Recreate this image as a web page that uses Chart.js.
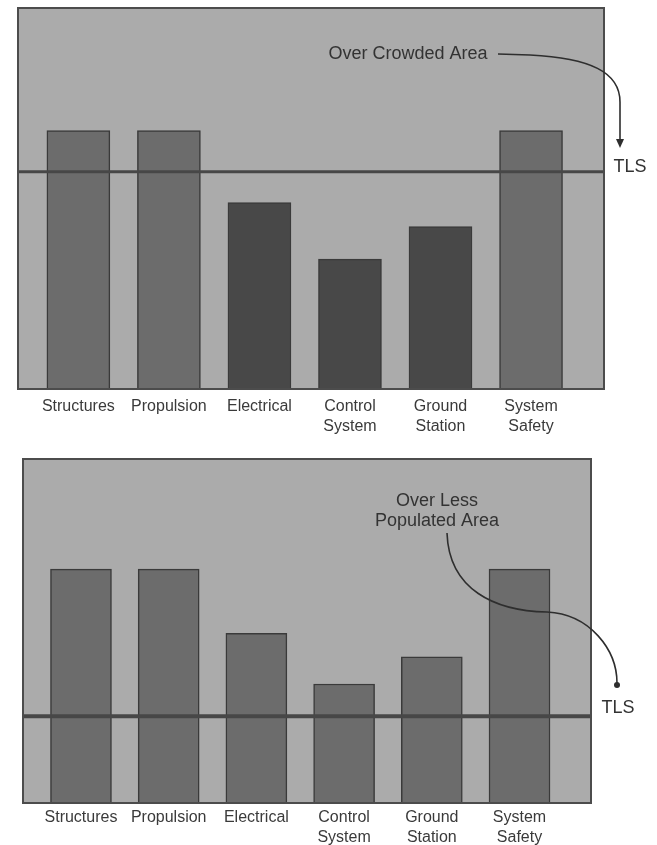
<!DOCTYPE html>
<html>
<head>
<meta charset="utf-8">
<script src="https://cdn.jsdelivr.net/npm/chart.js@4/dist/chart.umd.min.js"></script>
<style>
  body { margin: 0; background: #fff; }
  #wrap { position: relative; width: 657px; height: 845px; }
  canvas { position: absolute; left: 0; }
</style>
</head>
<body>
<div id="wrap">
  <canvas id="crowded" width="657" height="440" style="top:0"></canvas>
  <canvas id="sparse" width="657" height="405" style="top:440px"></canvas>
</div>
<script>
// Categories (multi-line tick labels)
var categories = [
  ['Structures'], ['Propulsion'], ['Electrical'],
  ['Control', 'System'], ['Ground', 'Station'], ['System', 'Safety']
];

// Risk level per subsystem, relative scale 0-100
var crowdedValues = [67.8, 67.8, 48.9, 34.1, 42.6, 67.8];
var sparseValues = [68.0, 68.0, 49.3, 34.6, 42.5, 68.0];

// Target level of safety for each case
var crowdedTls = 57;
var sparseTls = 25.2;

var FONT = '"Liberation Sans", Arial, sans-serif';
var BG = '#ababab';
var MID = '#6c6c6c';
var DARK = '#484848';
var INK = '#333333';

// Box fill behind the bars and frame around it
var boxPlugin = {
  id: 'box',
  beforeDatasetsDraw: function(chart) {
    var a = chart.chartArea, ctx = chart.ctx;
    ctx.save();
    ctx.fillStyle = BG;
    ctx.fillRect(a.left, a.top, a.right - a.left, a.bottom - a.top);
    ctx.restore();
  },
  afterDatasetsDraw: function(chart) {
    var a = chart.chartArea, ctx = chart.ctx;
    ctx.save();
    ctx.strokeStyle = '#4c4c4c';
    ctx.lineWidth = 2;
    ctx.strokeRect(a.left, a.top, a.right - a.left, a.bottom - a.top);
    ctx.restore();
  }
};

function tlsLabel(chart, tls, dx, dy) {
  var ctx = chart.ctx, a = chart.chartArea;
  var y = chart.scales.y.getPixelForValue(tls);
  ctx.font = '18px ' + FONT;
  ctx.fillStyle = INK;
  ctx.textAlign = 'center';
  ctx.textBaseline = 'middle';
  ctx.fillText('TLS', a.right + dx, y + dy);
}

function makeChart(id, spec) {
  var colors = spec.values.map(function(v) { return v > spec.tls ? MID : DARK; });

  return new Chart(document.getElementById(id), {
    type: 'bar',
    data: {
      datasets: [{
        type: 'line',
        order: 0,
        data: [{x: spec.xMin, y: spec.tls}, {x: spec.xMax, y: spec.tls}],
        borderColor: '#474747',
        borderWidth: spec.lineWidth,
        pointRadius: 0,
        fill: false
      }, {
        order: 1,
        data: spec.values.map(function(v, i) { return {x: i, y: v}; }),
        backgroundColor: colors,
        borderColor: '#3a3a3a',
        borderWidth: 1.5,
        barThickness: spec.barThickness
      }]
    },
    options: {
      responsive: false,
      animation: false,
      layout: {padding: spec.padding},
      plugins: {legend: {display: false}, tooltip: {enabled: false}},
      scales: {
        x: {
          type: 'linear',
          offset: false,
          min: spec.xMin,
          max: spec.xMax,
          grid: {display: false, drawTicks: false},
          border: {display: false},
          afterBuildTicks: function(axis) {
            axis.ticks = categories.map(function(c, i) { return {value: i}; });
          },
          afterFit: function(axis) { axis.height = spec.axisHeight; },
          ticks: {
            autoSkip: false,
            maxRotation: 0,
            minRotation: 0,
            padding: spec.tickPadding,
            color: '#3a3a3a',
            font: {family: FONT, size: 16, lineHeight: 1.25},
            callback: function(value) { return categories[value]; }
          }
        },
        y: {display: false, min: 0, max: 100}
      }
    },
    plugins: [boxPlugin, {id: 'notes', afterDraw: spec.notes}]
  });
}

makeChart('crowded', {
  values: crowdedValues,
  tls: crowdedTls,
  xMin: -0.667,
  xMax: 5.806,
  barThickness: 63,
  lineWidth: 3,
  padding: {left: 18, right: 53, top: 8, bottom: 0},
  axisHeight: 51,
  tickPadding: 8,
  notes: function(chart) {
    var ctx = chart.ctx;
    ctx.save();
    ctx.font = '18px ' + FONT;
    ctx.fillStyle = INK;
    ctx.textAlign = 'center';
    ctx.textBaseline = 'middle';
    ctx.fillText('Over Crowded Area', 408, 54);

    // leader curving round the box corner down to the TLS label
    ctx.strokeStyle = '#2e2e2e';
    ctx.lineWidth = 1.6;
    ctx.beginPath();
    ctx.moveTo(498, 54);
    ctx.lineTo(530, 55);
    ctx.bezierCurveTo(590, 58, 620, 72, 620, 102);
    ctx.lineTo(620, 140);
    ctx.stroke();
    ctx.fillStyle = '#2e2e2e';
    ctx.beginPath();
    ctx.moveTo(616, 139);
    ctx.lineTo(624, 139);
    ctx.lineTo(620, 148);
    ctx.closePath();
    ctx.fill();

    tlsLabel(chart, crowdedTls, 26, -5);
    ctx.restore();
  }
});

makeChart('sparse', {
  values: sparseValues,
  tls: sparseTls,
  xMin: -0.661,
  xMax: 5.815,
  barThickness: 61,
  lineWidth: 4,
  padding: {left: 23, right: 66, top: 19, bottom: 0},
  axisHeight: 42,
  tickPadding: 5,
  notes: function(chart) {
    var ctx = chart.ctx;
    ctx.save();
    ctx.font = '18px ' + FONT;
    ctx.fillStyle = INK;
    ctx.textAlign = 'center';
    ctx.textBaseline = 'middle';
    ctx.fillText('Over Less', 437, 61);
    ctx.fillText('Populated Area', 437, 81);

    // S-shaped leader ending on a dot above the TLS label
    ctx.strokeStyle = '#2e2e2e';
    ctx.lineWidth = 1.6;
    ctx.beginPath();
    ctx.moveTo(447, 93);
    ctx.bezierCurveTo(449, 150, 495, 171, 547, 172);
    ctx.bezierCurveTo(590, 174, 617, 210, 617, 243);
    ctx.stroke();
    ctx.fillStyle = '#2e2e2e';
    ctx.beginPath();
    ctx.arc(617, 245, 3, 0, Math.PI * 2);
    ctx.fill();

    tlsLabel(chart, sparseTls, 27, -8);
    ctx.restore();
  }
});
</script>
</body>
</html>
